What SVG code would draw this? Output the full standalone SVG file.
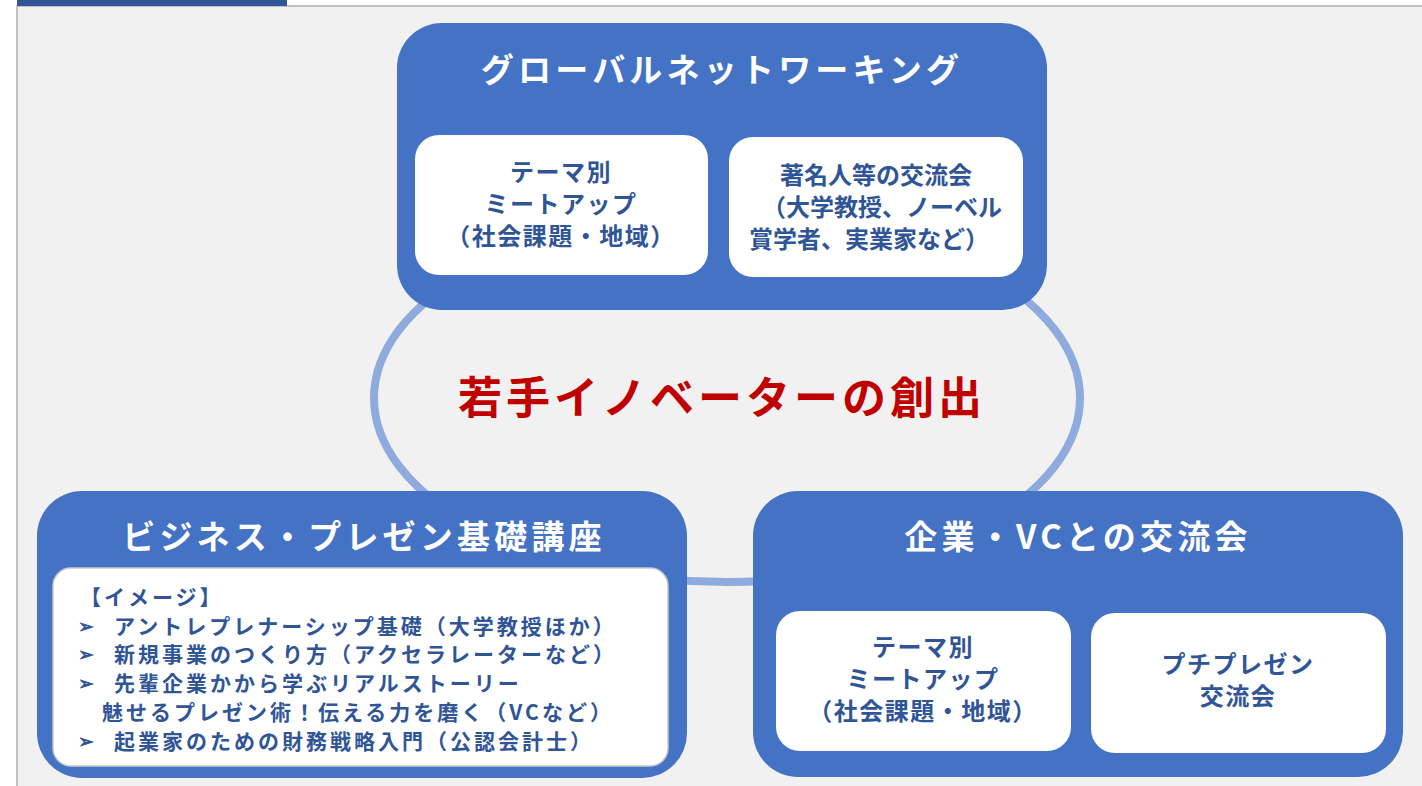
<svg xmlns="http://www.w3.org/2000/svg" width="1422" height="786" viewBox="0 0 1422 786">
<style>
text{font-family:"Noto Sans CJK JP","Noto Sans",sans-serif;font-weight:bold}
.outer{fill:#4472c4}
.inner{fill:#ffffff}
.title{fill:#ffffff;font-size:33px;letter-spacing:4.2px;text-anchor:middle}
.body{fill:#2f5597;font-size:24px;letter-spacing:1.5px;text-anchor:middle}
.tight{letter-spacing:0px}
.list{fill:#2f5597;font-size:21px;letter-spacing:3px}
.arrow{fill:#2f5597;font-size:19px}
</style>
<rect x="0" y="0" width="1422" height="786" fill="#ffffff"/>
<rect x="17" y="6" width="1410" height="790" fill="#f1f1f1" stroke="#b0b0b0" stroke-width="1.5"/>
<rect x="17" y="0" width="270" height="6" fill="#2f5597"/>
<g id="connectors">
<ellipse cx="727" cy="398" rx="353" ry="184" fill="none" stroke="#8faadc" stroke-width="8"/>
</g>
<g id="center">
<text x="722" y="414" fill="#c00000" font-size="44" letter-spacing="4" text-anchor="middle">若手イノベーターの創出</text>
</g>
<g id="global">
<rect class="outer" x="397" y="23" width="650" height="287" rx="45"/>
<text class="title" x="722" y="82">グローバルネットワーキング</text>
<rect class="inner" x="415" y="135" width="293" height="140" rx="24"/>
<text class="body" x="561" y="181">テーマ別</text>
<text class="body" x="561" y="213">ミートアップ</text>
<text class="body" x="561" y="245">（社会課題・地域）</text>
<rect class="inner" x="729" y="137" width="294" height="140" rx="24"/>
<text class="body tight" x="876" y="184">著名人等の交流会</text>
<text class="body tight" x="882" y="216">（大学教授、ノーベル</text>
<text class="body tight" x="869" y="248">賞学者、実業家など）</text>
</g>
<g id="business">
<rect class="outer" x="37" y="491" width="650" height="287" rx="45"/>
<text class="title" x="364" y="549">ビジネス・プレゼン基礎講座</text>
<rect class="inner" x="53" y="568" width="615" height="198" rx="18" stroke="#c8c8c8" stroke-width="1.5"/>
<text class="list" x="80" y="605">【イメージ】</text>
<text class="arrow" x="78" y="633">➢</text>
<text class="list" x="114" y="634">アントレプレナーシップ基礎（大学教授ほか）</text>
<text class="arrow" x="78" y="661">➢</text>
<text class="list" x="114" y="662">新規事業のつくり方（アクセラレーターなど）</text>
<text class="arrow" x="78" y="690">➢</text>
<text class="list" x="114" y="691">先輩企業かから学ぶリアルストーリー</text>
<text class="list" x="102" y="720">魅せるプレゼン術！伝える力を磨く（VCなど）</text>
<text class="arrow" x="78" y="748">➢</text>
<text class="list" x="114" y="749">起業家のための財務戦略入門（公認会計士）</text>
</g>
<g id="vc">
<rect class="outer" x="753" y="491" width="650" height="286" rx="45"/>
<text class="title" x="1078" y="549">企業・VCとの交流会</text>
<rect class="inner" x="776" y="611" width="295" height="140" rx="24"/>
<text class="body" x="923" y="656">テーマ別</text>
<text class="body" x="923" y="688">ミートアップ</text>
<text class="body" x="923" y="720">（社会課題・地域）</text>
<rect class="inner" x="1091" y="613" width="295" height="140" rx="24"/>
<text class="body" x="1238" y="673">プチプレゼン</text>
<text class="body" x="1238" y="705">交流会</text>
</g>
</svg>
